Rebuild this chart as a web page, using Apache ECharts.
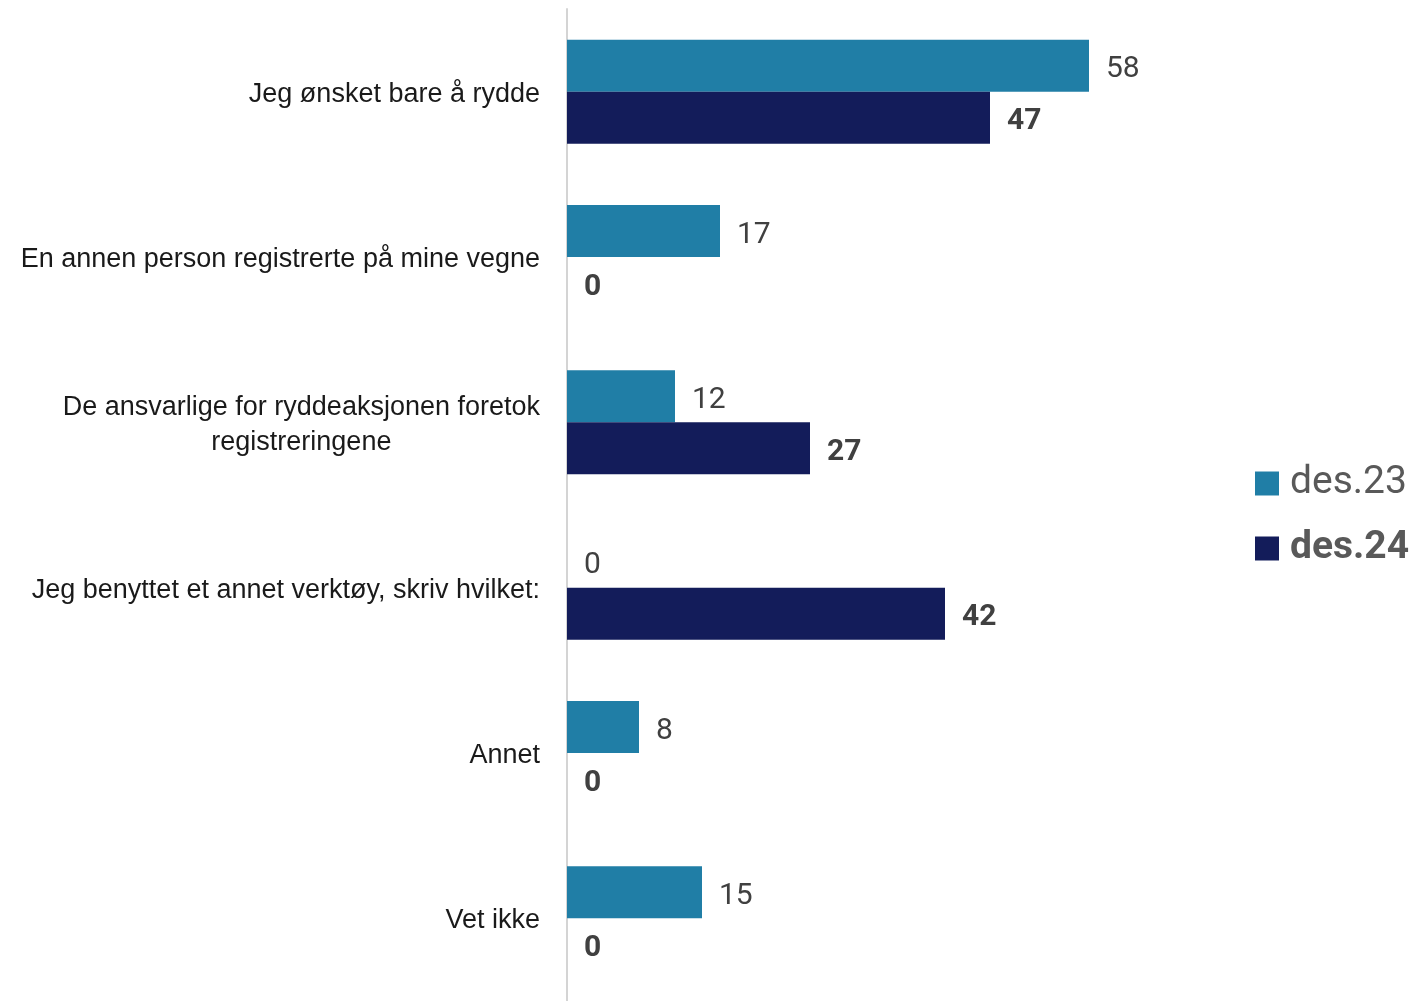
<!DOCTYPE html>
<html>
<head>
<meta charset="utf-8">
<script src="https://cdn.jsdelivr.net/npm/echarts@6/dist/echarts.min.js"></script>
<style>
    html, body { margin: 0; padding: 0; background: #fff; }
    #chart { width: 1421px; height: 1001px; }
</style>
</head>
<body>
<div id="chart"></div>
<script>
    // svar-kategorier (y-akse, ovenfra og ned)
    const categories = [
        'Jeg ønsket bare å rydde',
        'En annen person registrerte på mine vegne',
        'De ansvarlige for ryddeaksjonen foretok\nregistreringene',
        'Jeg benyttet et annet verktøy, skriv hvilket:',
        'Annet',
        'Vet ikke'
    ];
    const des23 = [58, 17, 12, 0, 8, 15];
    const des24 = [47, 0, 27, 42, 0, 0];

    const chart = echarts.init(document.getElementById('chart'));

    const option = {
        animation: false,
        textStyle: { fontFamily: 'Roboto' },
        grid: {
            left: 567,
            right: 314,
            top: 9,
            bottom: -3
        },
        legend: {
            orient: 'vertical',
            left: 1255,
            top: 464,
            padding: 0,
            icon: 'rect',
            itemWidth: 24,
            itemHeight: 24,
            itemGap: 26,
            textStyle: {
                fontSize: 39,
                color: '#595959',
                padding: [0, 0, 0, 6]
            },
            data: [
                { name: 'des.23', textStyle: { fontWeight: 'normal' } },
                { name: 'des.24', textStyle: { fontWeight: 'bold' } }
            ]
        },
        xAxis: {
            type: 'value',
            min: 0,
            max: 60,
            show: false,
            splitLine: { show: false }
        },
        yAxis: {
            type: 'category',
            inverse: true,
            data: categories,
            axisLine: { show: true, lineStyle: { color: '#d4d4d4', width: 2 } },
            axisTick: { show: false },
            axisLabel: {
                margin: 27,
                fontFamily: 'Liberation Sans',
                fontSize: 27,
                color: '#1a1a1a',
                lineHeight: 35,
                formatter: function (v) {
                    return v.split('\n').map(function (s) { return '{c|' + s + '}'; }).join('\n');
                },
                rich: {
                    c: {
                        align: 'center',
                        fontFamily: 'Liberation Sans',
                        fontSize: 27,
                        color: '#1a1a1a',
                        lineHeight: 35,
                        padding: [5, 0, 0, 0]
                    }
                }
            }
        },
        series: [
            {
                name: 'des.23',
                type: 'bar',
                data: des23,
                barWidth: 52,
                barGap: '0%',
                itemStyle: { color: '#207ea6' },
                label: {
                    show: true,
                    position: 'right',
                    distance: 17,
                    offset: [0, 4],
                    fontSize: 30,
                    color: '#404040'
                }
            },
            {
                name: 'des.24',
                type: 'bar',
                data: des24,
                barWidth: 52,
                barGap: '0%',
                itemStyle: { color: '#131c5a' },
                label: {
                    show: true,
                    position: 'right',
                    distance: 17,
                    offset: [0, 4],
                    fontSize: 30,
                    fontWeight: 'bold',
                    color: '#404040'
                }
            }
        ]
    };

    chart.setOption(option);
</script>
</body>
</html>
